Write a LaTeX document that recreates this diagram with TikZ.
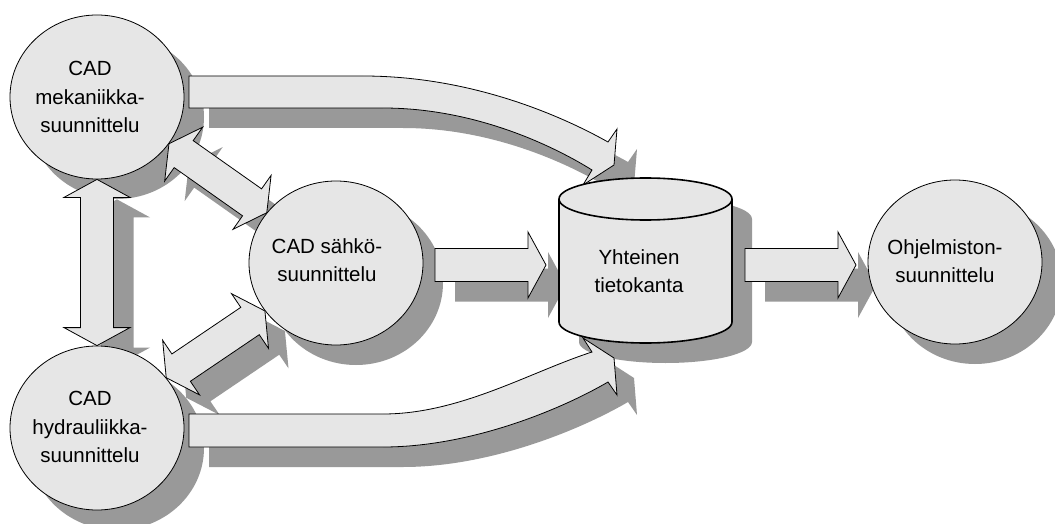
\documentclass[tikz,border=0pt]{standalone}
\usepackage{fontspec}
\setmainfont{Liberation Sans}
\usetikzlibrary{calc,shapes.geometric}
\definecolor{boxfill}{RGB}{230,230,230}
\definecolor{shadowgray}{RGB}{153,153,153}
\pgfdeclarelayer{shadowlayer}
\pgfdeclarelayer{arrowlayer}
\pgfsetlayers{shadowlayer,arrowlayer,main}
\tikzset{
  shapefill/.style={fill=boxfill, draw=black, line width=0.8pt, line join=miter},
  shadowfill/.style={fill=shadowgray, draw=none, transform canvas={shift={(20pt,-20pt)}}},
  circnode/.style={ellipse, shapefill, inner sep=0pt, minimum width=174pt, minimum height=164pt},
  txtstyle/.style={font=\fontsize{20.5}{28.5}\selectfont, align=center, inner sep=0pt},
  cylline/.style={fill=boxfill, draw=black, line width=1.6pt},
}
% double block arrow between two points
\newcommand\blockdbl[3]{%
  \path[#1] (#2) -- ($(#2)!18pt!(#3)!33pt!90:(#3)$) -- ($(#2)!18pt!(#3)!16.5pt!90:(#3)$)
    -- ($(#3)!18pt!(#2)!16.5pt!-90:(#2)$) -- ($(#3)!18pt!(#2)!33pt!-90:(#2)$) -- (#3)
    -- ($(#3)!18pt!(#2)!33pt!90:(#2)$) -- ($(#3)!18pt!(#2)!16.5pt!90:(#2)$)
    -- ($(#2)!18pt!(#3)!16.5pt!-90:(#3)$) -- ($(#2)!18pt!(#3)!33pt!-90:(#3)$) -- cycle;}
% single block arrow
\newcommand\blocksgl[3]{%
  \path[#1] ($(#2)!16.5pt!90:(#3)$) -- ($(#3)!18pt!(#2)!16.5pt!-90:(#2)$)
    -- ($(#3)!18pt!(#2)!33pt!-90:(#2)$) -- (#3) -- ($(#3)!18pt!(#2)!33pt!90:(#2)$)
    -- ($(#3)!18pt!(#2)!16.5pt!90:(#2)$) -- ($(#2)!16.5pt!-90:(#3)$) -- cycle;}
\newcommand\toparrow[1]{%
  \path[#1] (189,76) -- (363,76) .. controls (470,76) and (560,115) .. (608,142)
    -- (617,129) -- (614,165) -- (583,185) -- (592,170)
    .. controls (560,150) and (480,108) .. (383,108) -- (189,108) -- cycle;}
\newcommand\botarrow[1]{%
  \path[#1] (189,414) -- (383,414) .. controls (460,414) and (530,372) .. (592,352)
    -- (583,338) -- (614,358) -- (617,395) -- (608,382)
    .. controls (560,410) and (470,447) .. (383,447) -- (189,447) -- cycle;}
\newcommand\cylbody[1]{%
  \path[#1] (559,199) -- (559,322) arc[start angle=180, end angle=360, x radius=86.5pt, y radius=21pt]
    -- (732,199) arc[start angle=0, end angle=180, x radius=86.5pt, y radius=21pt] -- cycle;}
\begin{document}
\begin{tikzpicture}[x=1pt,y=-1pt]
\useasboundingbox (0,0) rectangle (1055,524);
% nodes
\node[circnode] (mek) at (97,97) {};
\node[circnode] (hyd) at (97,428) {};
\node[circnode] (sah) at (336,263) {};
\node[circnode] (ohj) at (955,262) {};
\cylbody{cylline}
\draw[line width=1.6pt] (559,199) arc[start angle=180, end angle=360, x radius=86.5pt, y radius=21pt];
\node[txtstyle] (mekt) at (90,97) {CAD\\mekaniikka-\\suunnittelu};
\node[txtstyle] (hydt) at (90,427) {CAD\\hydrauliikka-\\suunnittelu};
\node[txtstyle] (saht) at (327,260) {CAD sähkö-\\suunnittelu};
\node[txtstyle] (ohjt) at (945,261) {Ohjelmiston-\\suunnittelu};
\node[txtstyle] (dbt) at (639,271) {Yhteinen\\tietokanta};
\coordinate (s1) at (435,265);
\coordinate (t1) at (546,265);
\coordinate (s2) at (745,265);
\coordinate (t2) at (856,265);
% shadows
\begin{pgfonlayer}{shadowlayer}
  \fill[white] (0,0) rectangle (1055,524);
  \foreach \n in {mek,hyd,sah,ohj}
    \path[shadowfill] (\n.center) ellipse [x radius=87pt, y radius=82pt];
  \cylbody{shadowfill}
  \toparrow{shadowfill}
  \botarrow{shadowfill}
  \blockdbl{shadowfill}{mek.south}{hyd.north}
  \blockdbl{shadowfill}{mek.-33}{sah.144}
  \blockdbl{shadowfill}{hyd.36}{sah.-146}
  \blocksgl{shadowfill}{s1}{t1}
  \blocksgl{shadowfill}{s2}{t2}
\end{pgfonlayer}
% arrows
\begin{pgfonlayer}{arrowlayer}
  \toparrow{shapefill}
  \botarrow{shapefill}
  \blockdbl{shapefill}{mek.south}{hyd.north}
  \blockdbl{shapefill}{mek.-33}{sah.144}
  \blockdbl{shapefill}{hyd.36}{sah.-146}
  \blocksgl{shapefill}{s1}{t1}
  \blocksgl{shapefill}{s2}{t2}
\end{pgfonlayer}
\end{tikzpicture}
\end{document}
